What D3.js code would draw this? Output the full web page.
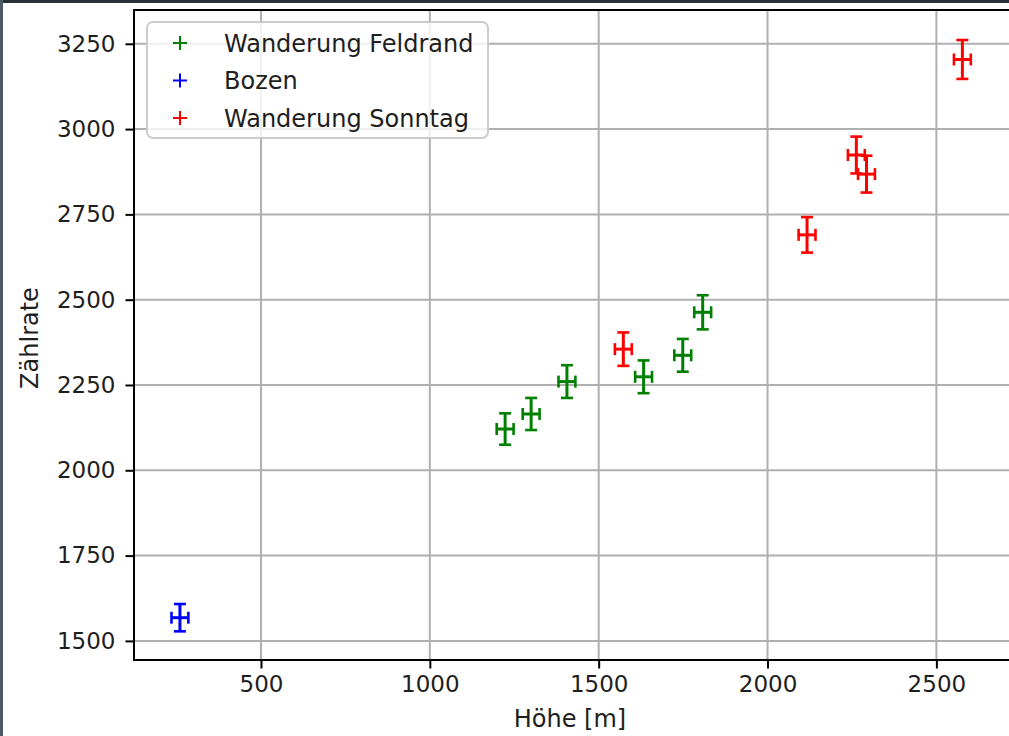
<!DOCTYPE html>
<html>
<head>
<meta charset="utf-8">
<script src="https://cdn.jsdelivr.net/npm/d3@7"></script>
<style>
  body { margin: 0; background: #fff; }
  svg { display: block; font-family: "DejaVu Sans", sans-serif; }
</style>
</head>
<body>
<div id="chart"></div>
<script>
// values
const feldrandX = [1223, 1300, 1406, 1633, 1749, 1808];
const feldrandY = [2121, 2165, 2260, 2274, 2337, 2463];
const feldrandErr = [46, 47, 48, 48, 48, 50];

const bozenX = [260];
const bozenY = [1568];
const bozenErr = [40];

const sonntagX = [1573, 2117, 2263, 2293, 2577];
const sonntagY = [2355, 2690, 2924, 2868, 3204];
const sonntagErr = [49, 52, 54, 54, 57];

const heightErr = 25;

const xTicks = [500, 1000, 1500, 2000, 2500];
const yTicks = [1500, 1750, 2000, 2250, 2500, 2750, 3000, 3250];

const seriesNames = ['Wanderung Feldrand', 'Bozen', 'Wanderung Sonntag'];
const seriesColors = ['#008000', '#0000ff', '#ff0000'];

const W = 1009, H = 736;
const margin = {top: 10, right: -1, bottom: 76, left: 134};
const width = W - margin.left - margin.right;
const height = H - margin.top - margin.bottom;

const svg = d3.select('#chart').append('svg')
    .attr('width', W)
    .attr('height', H);

// screenshot edges
svg.append('rect').attr('x', 0).attr('y', 0).attr('width', W).attr('height', 3).attr('fill', '#2b3038');
svg.append('rect').attr('x', 0).attr('y', 0).attr('width', 3).attr('height', H).attr('fill', '#4a5a66');

const chart = svg.append('g')
    .attr('transform', `translate(${margin.left},${margin.top})`);

const xScale = d3.scaleLinear().domain([124, 2718]).range([0, width]);
const yScale = d3.scaleLinear().domain([1444, 3349]).range([height, 0]);

// grid
chart.append('g')
    .selectAll('line')
    .data(xTicks)
    .enter()
        .append('line')
        .attr('x1', d => xScale(d)).attr('x2', d => xScale(d))
        .attr('y1', 0).attr('y2', height)
        .attr('stroke', '#b0b0b0').attr('stroke-width', 2);
chart.append('g')
    .selectAll('line')
    .data(yTicks)
    .enter()
        .append('line')
        .attr('x1', 0).attr('x2', width)
        .attr('y1', d => yScale(d)).attr('y2', d => yScale(d))
        .attr('stroke', '#b0b0b0').attr('stroke-width', 2);

// axes
const xAxis = chart.append('g')
    .attr('transform', `translate(0, ${height})`)
    .call(d3.axisBottom(xScale).tickValues(xTicks).tickSize(8.5).tickPadding(7).tickFormat(d3.format('d')));
const yAxis = chart.append('g')
    .call(d3.axisLeft(yScale).tickValues(yTicks).tickSize(8.5).tickPadding(10).tickFormat(d3.format('d')));
[xAxis, yAxis].forEach(ax => {
    ax.select('.domain').remove();
    ax.selectAll('line').attr('stroke', '#000').attr('stroke-width', 2);
    ax.selectAll('text')
        .style('font-size', '23px')
        .style('font-family', '"DejaVu Sans", sans-serif')
        .attr('fill', '#1e1e1e');
});

// spines
chart.append('rect')
    .attr('x', 0).attr('y', 0)
    .attr('width', width).attr('height', height)
    .attr('fill', 'none').attr('stroke', '#000').attr('stroke-width', 2);

// error bars
const series = [
    {x: feldrandX, y: feldrandY, err: feldrandErr},
    {x: bozenX, y: bozenY, err: bozenErr},
    {x: sonntagX, y: sonntagY, err: sonntagErr},
];
const cap = 6;
series.forEach((s, si) => {
    const color = seriesColors[si];
    const pts = s.x.map((x, i) => ({x: x, y: s.y[i], e: s.err[i]}));
    const g = chart.append('g').attr('stroke', color).attr('stroke-width', 2.6).attr('fill', 'none');
    const p = g.selectAll('g').data(pts).enter().append('g');
    // vertical bar + caps
    p.append('line')
        .attr('x1', d => xScale(d.x)).attr('x2', d => xScale(d.x))
        .attr('y1', d => yScale(d.y - d.e)).attr('y2', d => yScale(d.y + d.e))
        .attr('stroke-width', 3);
    p.append('line')
        .attr('x1', d => xScale(d.x) - cap).attr('x2', d => xScale(d.x) + cap)
        .attr('y1', d => yScale(d.y + d.e)).attr('y2', d => yScale(d.y + d.e));
    p.append('line')
        .attr('x1', d => xScale(d.x) - cap).attr('x2', d => xScale(d.x) + cap)
        .attr('y1', d => yScale(d.y - d.e)).attr('y2', d => yScale(d.y - d.e));
    // horizontal bar + caps
    p.append('line')
        .attr('x1', d => xScale(d.x - heightErr)).attr('x2', d => xScale(d.x + heightErr))
        .attr('y1', d => yScale(d.y)).attr('y2', d => yScale(d.y))
        .attr('stroke-width', 3);
    p.append('line')
        .attr('x1', d => xScale(d.x - heightErr)).attr('x2', d => xScale(d.x - heightErr))
        .attr('y1', d => yScale(d.y) - cap).attr('y2', d => yScale(d.y) + cap);
    p.append('line')
        .attr('x1', d => xScale(d.x + heightErr)).attr('x2', d => xScale(d.x + heightErr))
        .attr('y1', d => yScale(d.y) - cap).attr('y2', d => yScale(d.y) + cap);
});

// legend
const legend = svg.append('g').attr('transform', 'translate(147, 22)');
legend.append('rect')
    .attr('width', 341).attr('height', 116)
    .attr('rx', 6)
    .attr('fill', '#fff').attr('fill-opacity', 0.8)
    .attr('stroke', '#cccccc').attr('stroke-width', 2);
const rows = legend.selectAll('g.row')
    .data(seriesNames)
    .enter()
        .append('g')
        .attr('class', 'row')
        .attr('transform', (d, i) => `translate(0, ${21 + i * 37.5})`);
rows.append('path')
    .attr('d', 'M26,0H40M33,-7V7')
    .attr('stroke', (d, i) => seriesColors[i])
    .attr('stroke-width', 2);
rows.append('text')
    .attr('x', 77).attr('y', 8.5)
    .style('font-size', '24px')
    .attr('fill', '#1e1e1e')
    .text(d => d);

// axis labels
svg.append('text')
    .attr('x', 570).attr('y', 727)
    .attr('text-anchor', 'middle')
    .style('font-size', '24px')
    .attr('fill', '#1e1e1e')
    .text('Höhe [m]');
svg.append('text')
    .attr('transform', 'translate(38, 338) rotate(-90)')
    .attr('text-anchor', 'middle')
    .style('font-size', '24px')
    .attr('fill', '#1e1e1e')
    .text('Zählrate');
</script>
</body>
</html>
